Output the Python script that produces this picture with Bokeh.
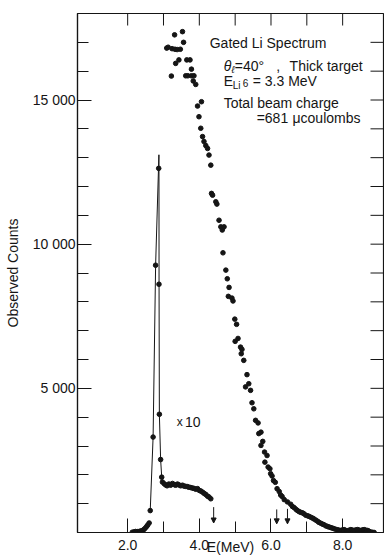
import math
from bokeh.plotting import figure
from bokeh.models import (LinearAxis, FixedTicker, Range1d, Label, Arrow,
                          NormalHead, ColumnDataSource, NumeralTickFormatter)
from bokeh.embed import file_html
from bokeh.resources import INLINE

# ---------------- data ----------------
# Main gated Li spectrum (dots)
main_E = [3.09, 3.13, 3.22, 3.24, 3.31, 3.32, 3.34, 3.38, 3.43, 3.47, 3.53, 3.56,
          3.62, 3.65, 3.68, 3.74, 3.78, 3.78, 3.83, 3.85, 3.90, 3.95, 3.99, 4.04,
          4.06, 4.09, 4.13, 4.18, 4.23, 4.27, 4.32, 4.34, 4.37, 4.46, 4.49, 4.55,
          4.60, 4.64, 4.69, 4.66, 4.74, 4.78, 4.83, 4.81, 4.91, 4.94, 4.99, 5.04,
          5.00, 5.08, 5.15, 5.19, 5.17, 5.24, 5.33, 5.29, 5.38, 5.43, 5.47, 5.52,
          5.57, 5.64, 5.66, 5.72, 5.72, 5.77, 5.82, 5.89, 5.83, 5.92, 5.97, 5.99,
          6.03, 6.07, 6.12, 6.17, 6.23, 6.27, 6.31, 6.37, 6.46, 6.55, 6.60, 6.65,
          6.70, 6.74, 6.79, 6.83, 6.88, 6.92, 6.97, 7.02, 7.06, 7.11, 7.16, 7.20,
          7.25, 7.30, 7.34, 7.39, 7.44, 7.48, 7.53, 7.58, 7.62, 7.67, 7.72, 7.76,
          7.81, 7.86, 7.90, 7.95, 8.00, 8.04, 8.09, 8.14, 8.18, 8.23, 8.28, 8.32,
          8.37, 8.42, 8.46, 8.51, 8.56, 8.60, 8.65, 8.70, 8.74, 8.79, 8.84, 8.88]
main_N = [16800, 16830, 15830, 16780, 17260, 16760, 16270, 16750, 16390, 16760, 17370, 17000,
          15840, 16390, 15840, 16390, 16070, 15840, 15660, 15840, 15540, 14790, 14420, 14020,
          14940, 13730, 13560, 13420, 13320, 13090, 12740, 11760, 11700, 11470, 11390, 10830,
          10600, 10490, 10600, 9700, 9100, 8800, 8500, 8190, 8130, 8030, 7400, 7220,
          6630, 6730, 6430, 6350, 6200, 5970, 5475, 5050, 5160, 4930, 4500, 4290,
          3890, 3800, 3430, 3480, 3020, 3160, 2790, 2670, 2440, 2270, 2210, 2040,
          1960, 1800, 1740, 1520, 1420, 1300, 1250, 1140, 1060, 980, 900, 860,
          800, 760, 720, 700, 680, 650, 600, 580, 560, 530, 500, 470,
          430, 390, 350, 320, 290, 270, 230, 210, 190, 170, 150, 130,
          110, 95, 80, 70, 90, 100, 70, 50, 80, 100, 80, 70,
          90, 100, 80, 70, 90, 100, 80, 70, 40, 15, 5, 0]

# "x10" spectrum (dots)
x10_E = [2.13, 2.18, 2.22, 2.27, 2.32, 2.36, 2.41, 2.45, 2.49, 2.53, 2.56, 2.60,
         2.63, 2.71, 2.78, 2.866, 2.874, 2.885, 2.92, 2.95, 2.97, 3.02, 3.06, 3.10,
         3.15, 3.20, 3.25, 3.30, 3.34, 3.39, 3.43, 3.48, 3.53, 3.57, 3.62, 3.67,
         3.71, 3.76, 3.81, 3.85, 3.90, 3.95, 4.00, 4.04, 4.09, 4.14, 4.18, 4.23,
         4.27, 4.32]
x10_N = [10, 20, 35, 30, 35, 50, 70, 100, 150, 210, 260, 330,
         760, 3310, 9270, 12630, 8610, 4100, 2530, 1920, 1750, 1690, 1650, 1620,
         1680, 1640, 1700, 1660, 1640, 1680, 1650, 1620, 1640, 1610, 1600, 1590,
         1570, 1560, 1540, 1530, 1500, 1520, 1460, 1440, 1400, 1350, 1320, 1260,
         1230, 1170]

# hand-drawn curve through the x10 peak
curve_E = [2.63, 2.71, 2.78, 2.872, 2.874, 2.876, 2.885, 2.92, 2.95, 2.98]
curve_N = [760, 3310, 9270, 13100, 12630, 8610, 4100, 2530, 1920, 1740]

# arrows marking energies
arrow_E = [4.40, 6.16, 6.46]
arrow_top = [880, 800, 820]
arrow_tip = [330, 300, 300]

x_major = [2, 4, 6, 8]
x_minor = [3, 5, 7]
x_top = [2, 3, 4, 5, 6, 7, 8]
y_major = [5000, 10000, 15000]
y_major_labels = ["5 000", "10 000", "15 000"]
y_minor = list(range(1000, 18001, 1000))
y_right = list(range(1000, 18000, 1000))

X0, X1 = 0.6, 9.14
Y0, Y1 = 0, 18000

FONT = "Liberation Sans"
INK = "#151515"

p = figure(width=384, height=560, x_range=Range1d(X0, X1), y_range=Range1d(Y0, Y1),
           output_backend="svg", toolbar_location=None,
           x_axis_location=None, y_axis_location=None,
           min_border_left=77, min_border_right=1, min_border_top=13, min_border_bottom=28)
p.outline_line_color = INK
p.outline_line_width = 1.2
p.xgrid.visible = False
p.ygrid.visible = False
p.background_fill_color = "white"
p.border_fill_color = "white"

def style(ax, tin, mtin):
    ax.major_tick_in = tin
    ax.major_tick_out = 0
    ax.minor_tick_in = mtin
    ax.minor_tick_out = 0
    ax.axis_line_color = INK
    ax.axis_line_width = 1.2
    ax.major_tick_line_color = INK
    ax.minor_tick_line_color = INK
    ax.major_label_text_font = FONT
    ax.major_label_text_font_size = "14px"
    ax.major_label_text_color = INK
    ax.axis_label_text_font = FONT
    ax.axis_label_text_font_size = "14px"
    ax.axis_label_text_font_style = "normal"
    ax.axis_label_text_color = INK

left = LinearAxis(ticker=FixedTicker(ticks=y_major, minor_ticks=y_minor),
                  axis_label="Observed Counts")
style(left, 14, 11)
left.major_label_standoff = 2
left.axis_label_standoff = 9
left.major_label_overrides = {v: s for v, s in zip(y_major, y_major_labels)}
p.add_layout(left, "left")

bottom = LinearAxis(ticker=FixedTicker(ticks=x_major, minor_ticks=x_minor),
                    formatter=NumeralTickFormatter(format="0.0"),
                    axis_label="E(MeV)")
style(bottom, 14, 11)
bottom.major_label_standoff = 7
bottom.axis_label_standoff = -14
p.add_layout(bottom, "below")

# inward tick marks on the top and right edges (half of each dash is clipped by the frame)
p.scatter(x_top, [Y1] * len(x_top), marker="dash", size=24, angle=math.pi / 2,
          line_color=INK, line_width=1)
p.scatter([X1] * len(y_right), y_right, marker="dash", size=26,
          line_color=INK, line_width=1)

# data
p.line(curve_E, curve_N, line_color=INK, line_width=1)
p.scatter(main_E, main_N, size=4.6, color=INK)
p.scatter(x10_E, x10_N, size=4.6, color=INK)

asrc = ColumnDataSource(dict(x=arrow_E, y0=arrow_top, y1=arrow_tip))
p.add_layout(Arrow(source=asrc, x_start="x", y_start="y0", x_end="x", y_end="y1",
                   line_color=INK, line_width=1,
                   end=NormalHead(size=5, fill_color=INK, line_color=INK)))

def lab(text, x, y, size="14px", style="normal", **kw):
    p.add_layout(Label(x=x, y=y, text=text, text_font=FONT, text_font_size=size,
                       text_font_style=style, text_color=INK,
                       text_baseline=kw.pop("baseline", "alphabetic"),
                       text_align=kw.pop("align", "left"), **kw))

lab("Gated Li Spectrum", 4.29, 16960)
lab("θ", 4.68, 16195, style="italic")
lab("ℓ", 4.90, 16057, size="10px", style="italic")
lab("=40°", 4.99, 16195)
lab(",", 6.15, 16195)
lab("Thick target", 6.52, 16195)
lab("E", 4.68, 15675)
lab("Li", 4.93, 15502, size="10px")
lab("6", 5.21, 15606, size="10px")
lab("= 3.3 MeV", 5.49, 15675)
lab("Total beam charge", 4.68, 14912)
lab("=681", 5.60, 14392)
lab("μcoulombs", 6.60, 14392)
lab("x", 3.37, 3825, size="12px")
lab("10", 3.60, 3825)

open("out.html", "w").write(file_html(p, INLINE))
